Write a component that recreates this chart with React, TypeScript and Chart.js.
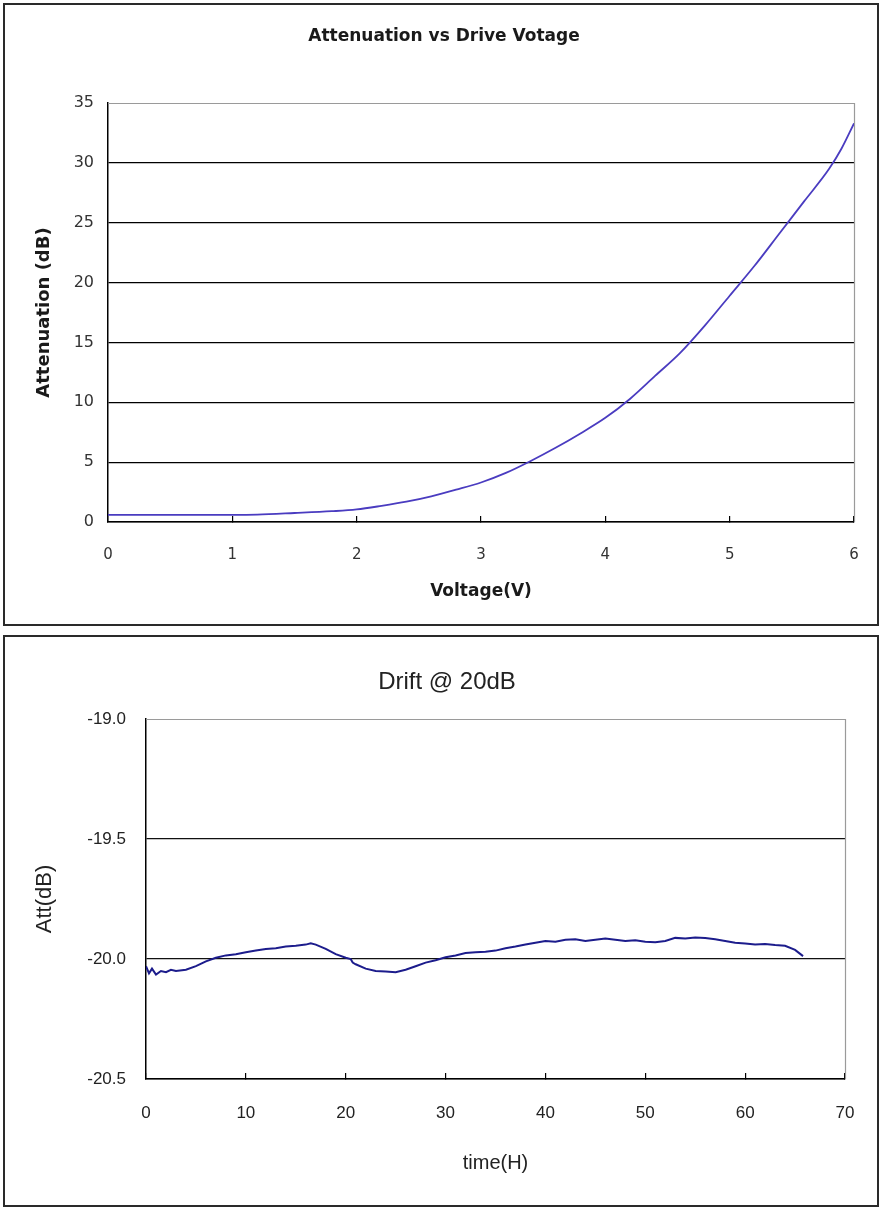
import React, { useEffect, useRef } from 'react';
import { Chart, registerables } from 'chart.js';

Chart.register(...registerables);

// ---- Chart 1: Attenuation vs Drive Voltage ----
const voltage = [0, 0.5, 1, 1.2, 1.5, 1.8, 2, 2.2, 2.4, 2.6, 2.8, 3, 3.2, 3.4, 3.6, 3.8, 4, 4.2, 4.4, 4.6, 4.8, 5, 5.2, 5.4, 5.6, 5.8, 5.9, 6];
const attenuation = [0.6, 0.6, 0.6, 0.62, 0.75, 0.9, 1.05, 1.35, 1.7, 2.15, 2.7, 3.3, 4.1, 5.1, 6.2, 7.4, 8.7, 10.3, 12.2, 14.1, 16.4, 18.9, 21.4, 24.1, 26.8, 29.5, 31.2, 33.3];
const voltageTicks = [0, 1, 2, 3, 4, 5, 6];
const attenuationTicks = [0, 5, 10, 15, 20, 25, 30, 35];

// ---- Chart 2: Drift @ 20dB ----
const driftHours = [0, 0.3, 0.6, 1, 1.5, 2, 2.5, 3, 4, 5, 6, 7, 8, 9, 10, 11, 12, 13, 14, 15, 16, 16.5, 17, 18, 19, 20, 20.5, 20.7, 21, 22, 23, 24, 25, 26, 27, 28, 29, 30, 31, 32, 33, 34, 35, 36, 37, 38, 39, 40, 41, 42, 43, 44, 45, 46, 47, 48, 49, 50, 51, 52, 53, 54, 55, 56, 57, 58, 59, 60, 61, 62, 63, 64, 65, 65.8];
const driftAtt = [-20.03, -20.06, -20.04, -20.065, -20.05, -20.055, -20.045, -20.05, -20.045, -20.03, -20.01, -19.995, -19.985, -19.98, -19.972, -19.965, -19.958, -19.955, -19.948, -19.945, -19.94, -19.935, -19.94, -19.958, -19.98, -19.995, -20.0, -20.015, -20.022, -20.04, -20.05, -20.052, -20.055, -20.045, -20.03, -20.015, -20.005, -19.993, -19.985, -19.975, -19.972, -19.97, -19.965, -19.955, -19.948, -19.94, -19.932, -19.925, -19.928, -19.92, -19.918, -19.925, -19.92, -19.915, -19.92, -19.925, -19.922, -19.928, -19.93, -19.925, -19.912, -19.915, -19.91, -19.913, -19.918, -19.925, -19.932, -19.935, -19.94, -19.938, -19.942, -19.945, -19.962, -19.988];
const hourTicks = [0, 10, 20, 30, 40, 50, 60, 70];
const driftTicks = [-20.5, -20.0, -19.5, -19.0];

const SANS = "'Liberation Sans', Arial, sans-serif";
const WIDE = "'DejaVu Sans', Verdana, sans-serif";

const framePlugin = {
  id: 'frame',
  beforeDatasetsDraw(chart: any) {
    const { ctx, chartArea } = chart;
    const { left, right, top, bottom } = chartArea;
    ctx.save();
    ctx.strokeStyle = '#9a9a9a';
    ctx.lineWidth = 1.2;
    ctx.beginPath();
    ctx.moveTo(left, Math.round(top) + 0.5);
    ctx.lineTo(Math.round(right) + 0.5, Math.round(top) + 0.5);
    ctx.lineTo(Math.round(right) + 0.5, bottom);
    ctx.stroke();
    ctx.restore();
  },
};

function spacerAxis(width: number): any {
  return {
    position: 'right',
    display: true,
    min: 0,
    max: 1,
    afterFit(s: any) { s.width = width; },
    grid: { display: false },
    border: { display: false },
    ticks: { display: false },
  };
}

function topConfig(): any {
  return {
    type: 'line',
    data: {
      datasets: [
        {
          data: voltage.map((v, i) => ({ x: v, y: attenuation[i] })),
          borderColor: '#4a3cc0',
          borderWidth: 1.8,
          pointRadius: 0,
          tension: 0.4,
          cubicInterpolationMode: 'monotone',
          fill: false,
        },
      ],
    },
    options: {
      animation: false,
      responsive: false,
      maintainAspectRatio: false,
      layout: { padding: { left: 6, right: 0, top: 0, bottom: 0 } },
      plugins: {
        legend: { display: false },
        tooltip: { enabled: false },
        title: {
          display: true,
          text: 'Attenuation vs Drive Votage',
          color: '#1a1a1a',
          font: { family: WIDE, size: 17, weight: 'bold', lineHeight: 1.2 },
          padding: { top: 22.8, bottom: 55.8 },
        },
      },
      scales: {
        x: {
          type: 'linear',
          min: voltageTicks[0],
          max: voltageTicks[voltageTicks.length - 1],
          afterFit(s: any) { s.height = 103; },
          afterBuildTicks(s: any) { s.ticks = voltageTicks.map((v) => ({ value: v })); },
          ticks: { color: '#333', font: { family: WIDE, size: 15, lineHeight: 4 }, padding: 9, maxRotation: 0 },
          grid: { drawOnChartArea: false, drawTicks: true, tickLength: -6, color: '#000', lineWidth: 1.2 },
          border: { color: '#000', width: 1.5 },
          title: {
            display: true,
            text: 'Voltage(V)',
            color: '#1a1a1a',
            font: { family: WIDE, size: 17, weight: 'bold', lineHeight: 1.2 },
            padding: { top: 0, bottom: 23.1 },
          },
        },
        y: {
          type: 'linear',
          min: attenuationTicks[0],
          max: attenuationTicks[attenuationTicks.length - 1],
          afterFit(s: any) { s.width = 98; },
          afterBuildTicks(s: any) { s.ticks = attenuationTicks.map((v) => ({ value: v })); },
          ticks: { color: '#333', font: { family: WIDE, size: 16 }, padding: 14 },
          grid: {
            drawTicks: false,
            color: (c: any) => (c.tick && c.tick.value === 35 ? 'rgba(0,0,0,0)' : '#000'),
            lineWidth: 1.2,
          },
          border: { color: '#000', width: 1.5 },
          title: {
            display: true,
            text: 'Attenuation (dB)',
            color: '#1a1a1a',
            font: { family: WIDE, size: 18, weight: 'bold', lineHeight: 1.2 },
            padding: { top: 23.7, bottom: 0 },
          },
        },
        y2: spacerAxis(24),
      },
    },
    plugins: [framePlugin],
  };
}

function bottomConfig(): any {
  return {
    type: 'line',
    data: {
      datasets: [
        {
          data: driftHours.map((t, i) => ({ x: t, y: driftAtt[i] })),
          borderColor: '#1c1c8c',
          borderWidth: 2,
          pointRadius: 0,
          tension: 0,
          fill: false,
        },
      ],
    },
    options: {
      animation: false,
      responsive: false,
      maintainAspectRatio: false,
      layout: { padding: { left: 12, right: 0, top: 0, bottom: 0 } },
      plugins: {
        legend: { display: false },
        tooltip: { enabled: false },
        title: {
          display: true,
          text: 'Drift @ 20dB',
          color: '#222',
          font: { family: SANS, size: 24, weight: 'normal', lineHeight: 1.2 },
          padding: { top: 31.6, bottom: 22.6 },
        },
      },
      scales: {
        x: {
          type: 'linear',
          min: hourTicks[0],
          max: hourTicks[hourTicks.length - 1],
          afterFit(s: any) { s.height = 127; },
          afterBuildTicks(s: any) { s.ticks = hourTicks.map((v) => ({ value: v })); },
          ticks: { color: '#222', font: { family: SANS, size: 17, lineHeight: 4 }, padding: 6, maxRotation: 0 },
          grid: { drawOnChartArea: false, drawTicks: true, tickLength: -6, color: '#000', lineWidth: 1.2 },
          border: { color: '#000', width: 1.5 },
          title: {
            display: true,
            text: 'time(H)',
            color: '#222',
            font: { family: SANS, size: 20, weight: 'normal', lineHeight: 1.2 },
            padding: { top: 0, bottom: 31 },
          },
        },
        y: {
          type: 'linear',
          min: driftTicks[0],
          max: driftTicks[driftTicks.length - 1],
          afterFit(s: any) { s.width = 130; },
          afterBuildTicks(s: any) { s.ticks = driftTicks.map((v) => ({ value: v })); },
          ticks: {
            color: '#222',
            font: { family: SANS, size: 17 },
            padding: 20,
            callback: (v: any) => Number(v).toFixed(1),
          },
          grid: {
            drawTicks: false,
            color: (c: any) => (c.tick && c.tick.value === -19.0 ? 'rgba(0,0,0,0)' : '#111'),
            lineWidth: 1.2,
          },
          border: { color: '#000', width: 1.5 },
          title: {
            display: true,
            text: 'Att(dB)',
            color: '#222',
            font: { family: SANS, size: 22, weight: 'normal', lineHeight: 1.2 },
            padding: { top: 16, bottom: 0 },
          },
        },
        y2: spacerAxis(33),
      },
    },
    plugins: [framePlugin],
  };
}

function ChartPanel(props: { top: number; height: number; make: () => any }) {
  const ref = useRef<HTMLCanvasElement | null>(null);
  useEffect(() => {
    if (!ref.current) return;
    const chart = new Chart(ref.current, props.make());
    return () => chart.destroy();
  }, []);
  return (
    <>
      <div
        style={{
          position: 'absolute',
          left: 3,
          top: props.top - 1,
          width: 876,
          height: props.height + 2,
          border: '2px solid #2a2a2a',
          boxSizing: 'border-box',
          background: '#fff',
        }}
      />
      <canvas
        ref={ref}
        width={874}
        height={props.height}
        style={{ position: 'absolute', left: 4, top: props.top, width: 874, height: props.height }}
      />
    </>
  );
}

export default function App() {
  return (
    <div style={{ position: 'absolute', left: 0, top: 0, width: 882, height: 1209, background: '#fff' }}>
      <ChartPanel top={4} height={621} make={topConfig} />
      <ChartPanel top={636} height={570} make={bottomConfig} />
    </div>
  );
}
